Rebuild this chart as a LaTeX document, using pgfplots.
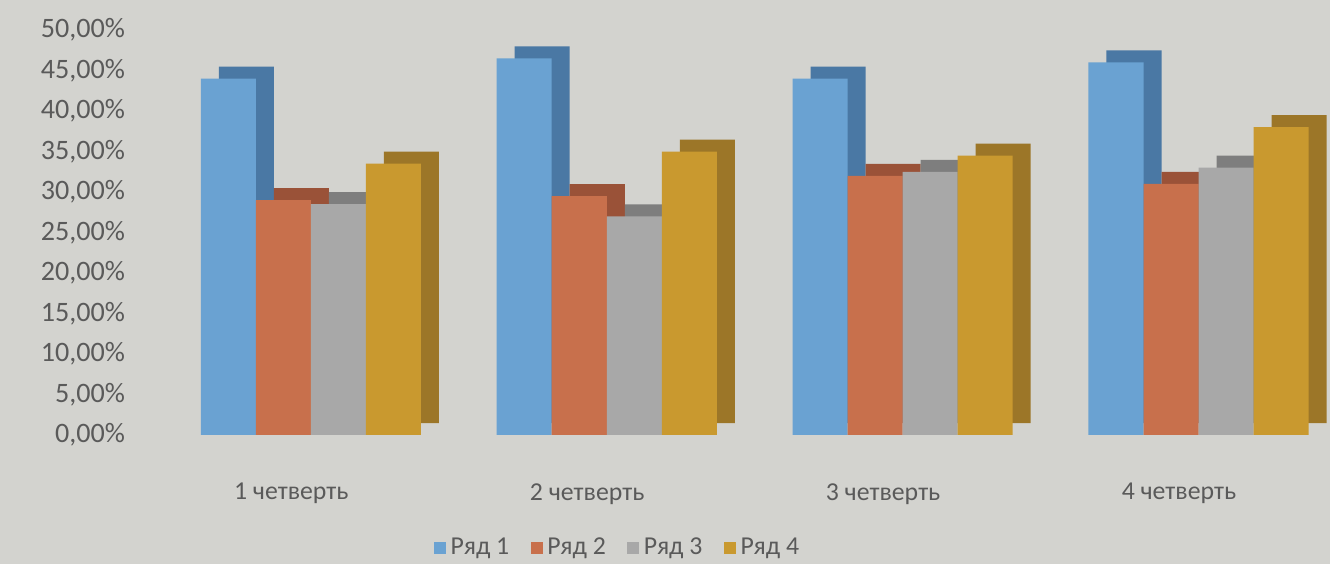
\documentclass[border=0pt]{standalone}
\usepackage{pgfplots}
\pgfplotsset{compat=1.18}
\usepackage{pgfplotstable}
\usepackage{fontspec}
\setmainfont{Carlito}

\definecolor{bgc}{HTML}{D3D3CF}
\definecolor{txt}{HTML}{5A5A5A}
\definecolor{c1}{HTML}{6AA2D2}
\definecolor{c1d}{HTML}{4A78A4}
\definecolor{c2}{HTML}{C8704C}
\definecolor{c2d}{HTML}{9A5238}
\definecolor{c3}{HTML}{A8A8A8}
\definecolor{c3d}{HTML}{7E7E7E}
\definecolor{c4}{HTML}{C9992F}
\definecolor{c4d}{HTML}{9C7628}

\pgfplotstableread{
x s1 s2 s3 s4
0 44.0 29.0 28.5 33.5
1 46.5 29.5 27.0 35.0
2 44.0 32.0 32.5 34.5
3 46.0 31.0 33.0 38.0
}\data

\begin{document}
\begin{tikzpicture}
\fill[bgc] (-2.55,-1.935) rectangle (17.4,6.525);
\begin{axis}[
  at={(0,0)}, anchor=south west,
  width=17.31cm, height=6.075cm, scale only axis,
  ymin=0, ymax=50, xmin=-0.5, xmax=3.4,
  ytick={0,5,...,50},
  xtick={0,1,2,3},
  xticklabels={1 четверть,2 четверть,3 четверть,4 четверть},
  ybar, bar width=0.186,
  axis line style={draw=none},
  tick style={draw=none},
  clip=false,
  /pgf/number format/assume math mode=true,
  yticklabel={\pgfmathprintnumber[fixed,fixed zerofill,precision=2,use comma]{\tick}\%},
  yticklabel style={xshift=-0.55cm, font=\fontsize{12}{14}\selectfont, text=txt},
  xticklabel style={yshift=-0.45cm, xshift=-0.4cm, font=\fontsize{11}{13}\selectfont, text=txt},
  legend style={draw=none, fill=none, at={(0.389,-0.279)}, anchor=center,
    legend columns=4, font=\fontsize{11}{13}\selectfont, text=txt,
    /tikz/every even column/.append style={column sep=0.25cm}},
  legend image code/.code={\fill[#1] (0cm,-0.09cm) rectangle (0.18cm,0.09cm);},
]
% depth (back faces)
\addplot[forget plot, draw=none, fill=c1d, bar shift=-0.303, xshift=0.27cm, yshift=0.18cm] table[x=x,y=s1] {\data};
\addplot[forget plot, draw=none, fill=c2d, bar shift=-0.117, xshift=0.27cm, yshift=0.18cm] table[x=x,y=s2] {\data};
\addplot[forget plot, draw=none, fill=c3d, bar shift=0.069, xshift=0.27cm, yshift=0.18cm] table[x=x,y=s3] {\data};
\addplot[forget plot, draw=none, fill=c4d, bar shift=0.255, xshift=0.27cm, yshift=0.18cm] table[x=x,y=s4] {\data};
% front faces
\addplot[draw=none, fill=c1, bar shift=-0.303] table[x=x,y=s1] {\data};
\addplot[draw=none, fill=c2, bar shift=-0.117] table[x=x,y=s2] {\data};
\addplot[draw=none, fill=c3, bar shift=0.069] table[x=x,y=s3] {\data};
\addplot[draw=none, fill=c4, bar shift=0.255] table[x=x,y=s4] {\data};
\legend{Ряд 1,Ряд 2,Ряд 3,Ряд 4}
\end{axis}
\pgfresetboundingbox
\path (-2.55,-1.935) rectangle (17.4,6.525);
\end{tikzpicture}
\end{document}
